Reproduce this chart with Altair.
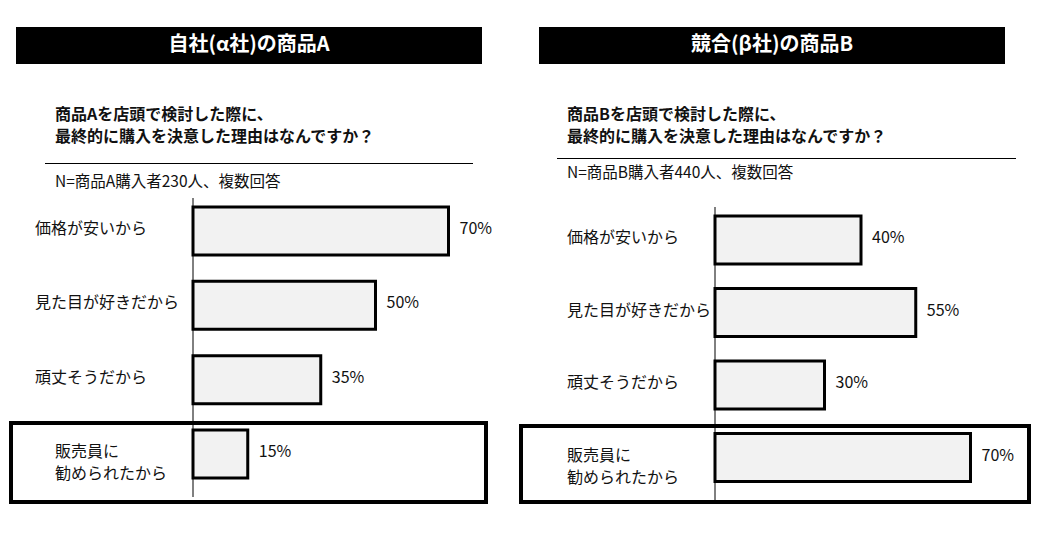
import altair as alt
import pandas as pd

# ---- data ----
reasons = ["価格が安いから", "見た目が好きだから", "頑丈そうだから", "販売員に\n勧められたから"]
values_a = [70, 50, 35, 15]
values_b = [40, 55, 30, 70]
titles = ["自社(α社)の商品A", "競合(β社)の商品B"]
questions = ["商品Aを店頭で検討した際に、\n最終的に購入を決意した理由はなんですか？",
             "商品Bを店頭で検討した際に、\n最終的に購入を決意した理由はなんですか？"]
n_notes = ["N=商品A購入者230人、複数回答", "N=商品B購入者440人、複数回答"]
highlight = "販売員に\n勧められたから"

FONT = "Noto Sans CJK JP"
one = pd.DataFrame({"k": [0]})


def panel(values, title, question, note, lay, w):
    df = pd.DataFrame({"reason": reasons, "value": values})
    xs = alt.Scale(domain=[0, 100], range=[lay["x0"], lay["x0"] + 365])
    ys = alt.Scale(type="point", domain=reasons, range=[lay["y_top"], lay["y_bot"]], padding=0)

    title_box = alt.Chart(one).mark_rect(color="black").encode(
        x=alt.value(lay["tx"][0]), x2=alt.value(lay["tx"][1]),
        y=alt.value(19), y2=alt.value(56))
    title_txt = alt.Chart(one).mark_text(
        text=title, font=FONT, fontSize=20, fontWeight="bold", color="white",
        align="center", baseline="middle").encode(
        x=alt.value((lay["tx"][0] + lay["tx"][1]) / 2), y=alt.value(37))
    q_txt = alt.Chart(one).mark_text(
        text=question, font=FONT, fontSize=16, fontWeight="bold", color="#111",
        align="left", baseline="middle", lineBreak="\n", lineHeight=22).encode(
        x=alt.value(lay["qx"]), y=alt.value(107))
    sep = alt.Chart(one).mark_rule(color="black", strokeWidth=1).encode(
        x=alt.value(lay["sx"][0]), x2=alt.value(lay["sx"][1]), y=alt.value(lay["sy"]))
    n_txt = alt.Chart(one).mark_text(
        text=note, font=FONT, fontSize=15.5, color="#111",
        align="left", baseline="middle").encode(
        x=alt.value(lay["qx"]), y=alt.value(lay["ny"]))
    axis_line = alt.Chart(one).mark_rule(color="black", strokeWidth=1).encode(
        x=alt.value(lay["x0"]), y=alt.value(lay["ay"][0]), y2=alt.value(lay["ay"][1]))
    bars = alt.Chart(df).mark_bar(
        size=48, fill="#f2f2f2", stroke="black", strokeWidth=3).encode(
        x=alt.X("value:Q", scale=xs, axis=None),
        y=alt.Y("reason:N", scale=ys, axis=None))
    vals = alt.Chart(df).transform_calculate(
        lbl="datum.value + '%'").mark_text(
        font=FONT, fontSize=16, color="#111", align="left", baseline="middle",
        dx=11, dy=-2).encode(
        x=alt.X("value:Q", scale=xs, axis=None),
        y=alt.Y("reason:N", scale=ys, axis=None),
        text="lbl:N")
    labels = alt.Chart(df).transform_filter(
        alt.datum.reason != highlight).mark_text(
        font=FONT, fontSize=16, color="#111", align="left", baseline="middle",
        dy=-2).encode(
        x=alt.value(lay["lx"]),
        y=alt.Y("reason:N", scale=ys, axis=None),
        text="reason:N")
    hl_label = alt.Chart(df).transform_filter(
        alt.datum.reason == highlight).mark_text(
        font=FONT, fontSize=16, color="#111", align="left", baseline="middle",
        lineBreak="\n", lineHeight=22, dy=-2).encode(
        x=alt.value(lay["hx"]),
        y=alt.Y("reason:N", scale=ys, axis=None),
        text="reason:N")
    hl_box = alt.Chart(one).mark_rect(
        fillOpacity=0, stroke="black", strokeWidth=4).encode(
        x=alt.value(lay["bx"][0]), x2=alt.value(lay["bx"][1]),
        y=alt.value(lay["by"][0]), y2=alt.value(lay["by"][1]))

    return alt.layer(title_box, title_txt, q_txt, sep, n_txt, axis_line,
                     bars, vals, labels, hl_label, hl_box).properties(width=w, height=518)


lay_a = dict(x0=185, y_top=223, y_bot=446, tx=(8, 474), qx=47, sx=(37, 465), sy=155.5,
             ny=174, ay=(190, 489), lx=27, hx=47, bx=(3, 478), by=(415, 494))
lay_b = dict(x0=197, y_top=232, y_bot=449.5, tx=(21, 487), qx=49, sx=(39, 498), sy=150.5,
             ny=165, ay=(199, 492), lx=49, hx=49, bx=(3, 511), by=(418, 494))

left = panel(values_a, titles[0], questions[0], n_notes[0], lay_a, 510)
right = panel(values_b, titles[1], questions[1], n_notes[1], lay_b, 515)

chart = alt.hconcat(left, right, spacing=0, bounds="flush").properties(
    padding=0).configure_view(stroke=None)

chart.save("out.html", embed_options={"renderer": "svg", "actions": False})
